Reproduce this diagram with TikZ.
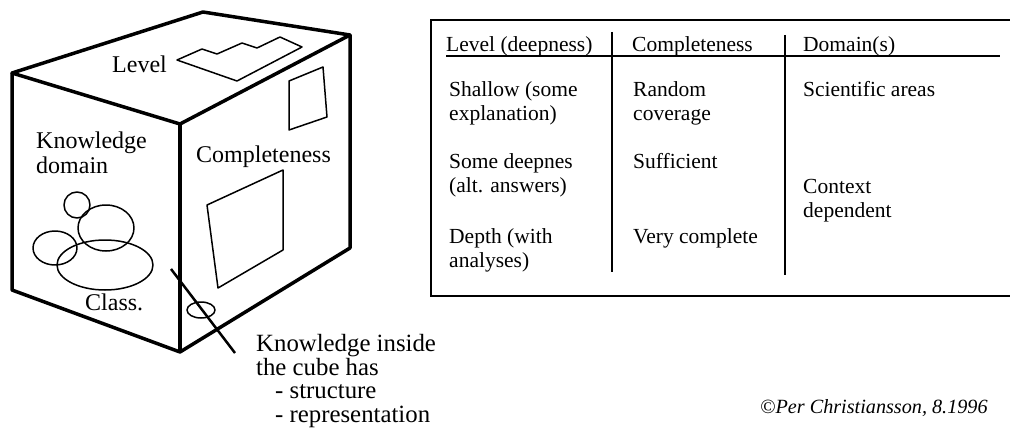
\documentclass[tikz,border=0pt]{standalone}
\usepackage{fontspec}
\setmainfont{Liberation Serif}
\usetikzlibrary{positioning}
\newcommand{\stacklines}[1]{\begin{tabular}[t]{@{}l@{}}#1\end{tabular}}
\tikzset{
  cubeedge/.style={line width=3.5pt, line join=round},
  figline/.style={line width=1.5pt, line join=round},
  cubelbl/.style={font=\fontsize{24}{25}\selectfont, inner sep=0pt, anchor=base west},
  tablbl/.style={font=\fontsize{21.5}{24.5}\selectfont, inner sep=0pt, anchor=base west}
}
\begin{document}
\begin{tikzpicture}[x=1pt, y=-1pt]
  \useasboundingbox (0,0) rectangle (1010,428);

  \coordinate (bk) at (203,12);  \coordinate (lt) at (12,73);   \coordinate (rt) at (350,35);
  \coordinate (ft) at (180,124); \coordinate (lb) at (12,290);  \coordinate (fb) at (180,352);
  \coordinate (rb) at (350,248);
  \draw[cubeedge] (lt) -- (bk) -- (rt) -- (ft) -- cycle;
  \draw[cubeedge] (lt) -- (lb) -- (fb) -- (rb) -- (rt);
  \draw[cubeedge] (ft) -- (fb);

  \draw[figline] (177,60) -- (202,49) -- (217,54) -- (242,43) -- (257,48) -- (280,37) -- (302,47) -- (237,81) -- cycle;
  \draw[figline] (289,81) -- (323,67) -- (327,117) -- (289,130) -- cycle;
  \draw[figline] (207,205) -- (283,170) -- (283,250) -- (218,288) -- cycle;
  \draw[figline] (77,205) ellipse [x radius=13pt, y radius=13pt];
  \draw[figline] (106,228) ellipse [x radius=28pt, y radius=23pt];
  \draw[figline] (55,248) ellipse [x radius=22pt, y radius=17pt];
  \draw[figline] (105,265) ellipse [x radius=48pt, y radius=25pt];
  \draw[figline] (201,310) ellipse [x radius=14pt, y radius=8pt];

  \node[cubelbl] (level) at (112,73) {Level};
  \node[cubelbl] (domain) at (36,148) {\stacklines{Knowledge\\domain}};
  \node[cubelbl] (compl) at (196,162) {Completeness};
  \node[cubelbl] (class) at (85,310) {Class.};
  \node[cubelbl, font=\fontsize{24.8}{23.5}\selectfont] (inside) at (256,351)
    {\stacklines{Knowledge inside\\the cube has\\\hspace*{19pt}- structure\\\hspace*{19pt}- representation}};
  \coordinate (ptrA) at (171,269); \coordinate (ptrB) at (235,353);
  \draw[line width=2.5pt] (ptrA) -- (ptrB);

  \draw[line width=1.5pt] (431,20) rectangle (1015,296);
  \draw[line width=2pt] (446,56) -- (1000,56);
  \draw[line width=2.5pt] (612,32) -- (612,272);
  \draw[line width=2.5pt] (785,35) -- (785,275);

  \node[tablbl] (hlevel) at (446,52) {Level (deepness)};
  \node[tablbl] (hcompl) at (632,52) {Completeness};
  \node[tablbl] (hdomain) at (803,52) {Domain(s)};
  \node[tablbl] (shallow) at (449,96) {\stacklines{Shallow (some\\explanation)}};
  \node[tablbl] (random) at (633,96) {\stacklines{Random\\coverage}};
  \node[tablbl] (science) at (803,96) {Scientific areas};
  \node[tablbl] (some) at (449,168) {\stacklines{Some deepnes\\(alt. answers)}};
  \node[tablbl] (suff) at (633,168) {Sufficient};
  \node[tablbl] (context) at (803,193) {\stacklines{Context\\dependent}};
  \node[tablbl] (depth) at (449,243) {\stacklines{Depth (with\\analyses)}};
  \node[tablbl] (very) at (633,243) {Very complete};

  \node[font=\fontsize{20.2}{22}\selectfont\itshape, inner sep=0pt, anchor=base west] (copy) at (760,413) {\textcopyright Per Christiansson, 8.1996};
\end{tikzpicture}
\end{document}
